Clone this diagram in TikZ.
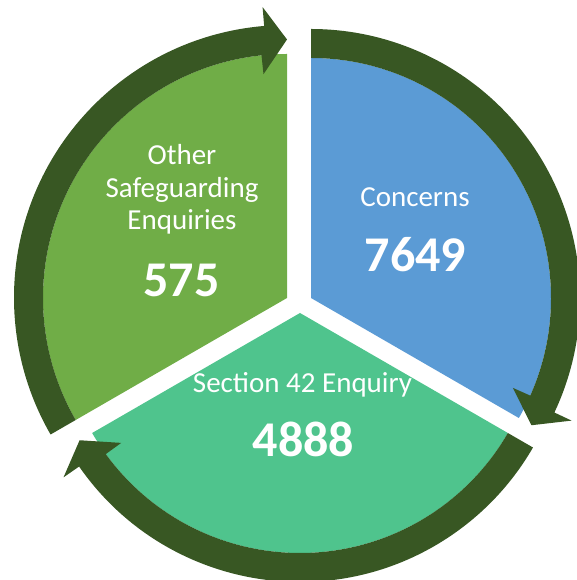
\documentclass[tikz,border=0pt]{standalone}
\usepackage{fontspec}
\setmainfont{Carlito}
\usetikzlibrary{calc}

\definecolor{secgreen}{RGB}{112,173,71}
\definecolor{secblue}{RGB}{91,155,213}
\definecolor{secteal}{RGB}{79,196,141}
\definecolor{arrowcol}{RGB}{56,87,35}

% One segment of the cycle: a pie slice plus the curved arrow on its rim.
% #1 apex, #2 radius, #3 start angle, #4 end angle (clockwise), #5 fill colour
\newcommand{\cyclesegment}[5]{%
  \pgfmathsetmacro\segrout{#2+29}%
  \pgfmathsetmacro\segrmid{#2+14.5}%
  \pgfmathsetmacro\segrwi{#2-19}%
  \pgfmathsetmacro\segrwo{#2+48}%
  \pgfmathsetmacro\segbi{#4+6}%
  \pgfmathsetmacro\segbo{#4+4.8}%
  \fill[#5] (#1) -- ($(#1)+(#3:#2pt)$) arc[start angle=#3, end angle=#4, radius=#2pt] -- cycle;
  \fill[arrowcol] ($(#1)+(#3:#2pt)$) arc[start angle=#3, end angle=\segbi, radius=#2pt]
    -- ($(#1)+(\segbi:\segrwi pt)$)
    -- ($(#1)+(#4:\segrmid pt)$)
    -- ($(#1)+(\segbo:\segrwo pt)$)
    -- ($(#1)+(\segbo:\segrout pt)$)
    arc[start angle=\segbo, end angle=#3, radius=\segrout pt] -- cycle;
}

\tikzset{
  lbl/.style={text=white, inner sep=0pt, font=\fontsize{29}{32.5}\selectfont},
  num/.style={text=white, inner sep=0pt, font=\fontsize{50}{55}\selectfont\bfseries},
}

\begin{document}
\begin{tikzpicture}[x=1pt,y=1pt]
\useasboundingbox (0,0) rectangle (576,580);

\coordinate (apexblue)  at (311,282);
\coordinate (apexgreen) at (287,282);
\coordinate (apexteal)  at (300,267);

\cyclesegment{apexblue}{240}{90}{-30}{secblue}
\cyclesegment{apexteal}{240}{-30}{-150}{secteal}
\cyclesegment{apexgreen}{244}{210}{90}{secgreen}

\node[lbl, anchor=base] (concerns) at (415,373) {Concerns};
\node[num, anchor=base] (concernsnum) at (415.5,308) {7649};

\node[lbl, anchor=base] (otherA) at (182,415) {Other};
\node[lbl, anchor=base] (otherB) at (182,382.5) {Safeguarding};
\node[lbl, anchor=base] (otherC) at (182,350) {Enquiries};
\node[num, anchor=base] (othernum) at (181.5,283) {575};

\node[lbl, anchor=base] (section) at (302.5,187) {Section 42 Enquiry};
\node[num, anchor=base] (sectionnum) at (303.5,123) {4888};
\end{tikzpicture}
\end{document}
